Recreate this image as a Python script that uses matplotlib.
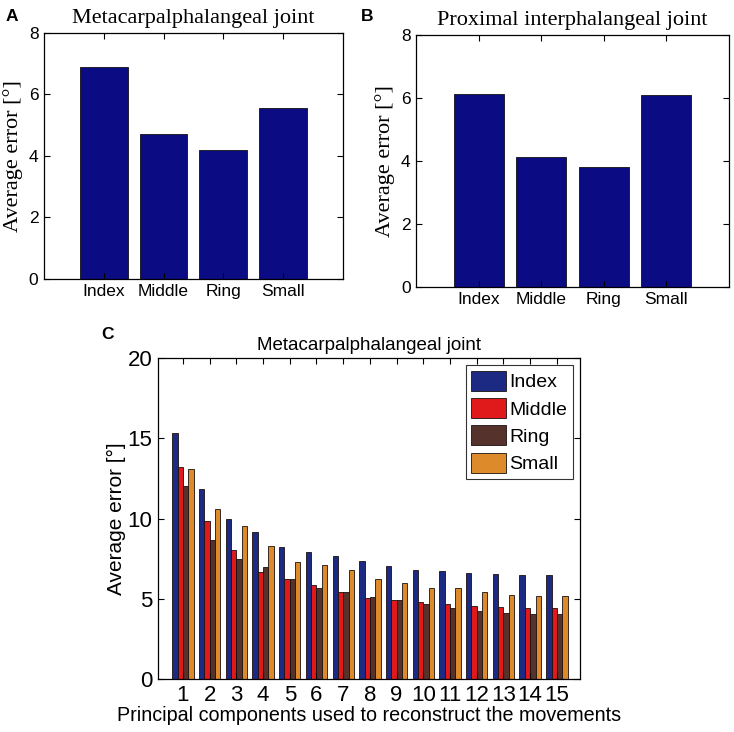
import matplotlib
matplotlib.use("Agg")
import matplotlib.pyplot as plt
import numpy as np

# Panel A / B: average error per finger
fingers = ["Index", "Middle", "Ring", "Small"]
mcp_err = [6.9, 4.7, 4.2, 5.55]
pip_err = [6.13, 4.13, 3.8, 6.1]

# Panel C: average error vs number of principal components
n_pc = list(range(1, 16))
pc_index = [15.3, 11.85, 9.95, 9.15, 8.2, 7.9, 7.65, 7.35, 7.05, 6.8, 6.75, 6.6, 6.55, 6.45, 6.45]
pc_middle = [13.2, 9.85, 8.05, 6.65, 6.2, 5.85, 5.4, 5.05, 4.9, 4.8, 4.7, 4.55, 4.5, 4.45, 4.45]
pc_ring = [12.05, 8.65, 7.45, 6.95, 6.2, 5.65, 5.45, 5.1, 4.9, 4.7, 4.45, 4.25, 4.1, 4.05, 4.05]
pc_small = [13.1, 10.6, 9.55, 8.3, 7.3, 7.1, 6.8, 6.25, 6.0, 5.65, 5.65, 5.45, 5.25, 5.2, 5.2]

SANS = "Liberation Sans"
SERIF = "Liberation Serif"
navy = "#0b0b84"
colors = ["#1c2a84", "#e0191b", "#55322c", "#dd8a2a"]

fig = plt.figure(figsize=(7.34, 7.32), dpi=100)


def style_axes(ax, fs):
    ax.tick_params(direction="in", top=True, right=True, length=4, width=0.8,
                   labelsize=fs, pad=4)
    for lab in ax.get_xticklabels() + ax.get_yticklabels():
        lab.set_fontfamily(SANS)
    for s in ax.spines.values():
        s.set_linewidth(0.9)


def finger_panel(rect, vals, title, letter, letter_xy):
    ax = fig.add_axes(rect)
    x = np.arange(1, 5)
    ax.bar(x, vals, width=0.8, color=navy, edgecolor="#111111", linewidth=0.6)
    ax.set_xlim(0, 5)
    ax.set_ylim(0, 8)
    ax.set_xticks(x)
    ax.set_xticklabels(fingers)
    ax.set_yticks([0, 2, 4, 6, 8])
    style_axes(ax, 12.5)
    ax.set_title(title, family=SERIF, fontsize=16, pad=7)
    ax.set_ylabel("Average error [°]", family=SERIF, fontsize=16, labelpad=4)
    fig.text(letter_xy[0], letter_xy[1], letter, family=SANS, fontweight="bold",
             fontsize=12.5, va="top")
    return ax


finger_panel([0.060, 0.619, 0.407, 0.336], mcp_err,
             "Metacarpalphalangeal joint", "A", (0.008, 0.988))
finger_panel([0.567, 0.608, 0.426, 0.344], pip_err,
             "Proximal interphalangeal joint", "B", (0.492, 0.988))

# Panel C
axc = fig.add_axes([0.215, 0.0724, 0.575, 0.4385])
x = np.array(n_pc)
w = 0.2
series = [pc_index, pc_middle, pc_ring, pc_small]
for i, (vals, lab) in enumerate(zip(series, fingers)):
    axc.bar(x + (i - 1.5) * w, vals, width=w, color=colors[i],
            edgecolor="#1a1010", linewidth=0.6, label=lab)
axc.set_xlim(0.06, 15.86)
axc.set_ylim(0, 20)
axc.set_xticks(x)
axc.set_yticks([0, 5, 10, 15, 20])
style_axes(axc, 16)
axc.set_title("Metacarpalphalangeal joint", family=SANS, fontsize=13.5, pad=6)
axc.set_ylabel("Average error [°]", family=SANS, fontsize=15, labelpad=1)
axc.set_xlabel("Principal components used to reconstruct the movements",
               family=SANS, fontsize=14.2, labelpad=0)
leg = axc.legend(loc="upper right", prop={"family": SANS, "size": 14},
                 fancybox=False, edgecolor="black", handlelength=1.8,
                 handleheight=1.2, handletextpad=0.15, labelspacing=0.35,
                 borderpad=0.3, borderaxespad=0.35)
leg.get_frame().set_linewidth(0.8)
fig.text(0.138, 0.553, "C", family=SANS, fontweight="bold", fontsize=12.5, va="top")

fig.savefig("out.png", dpi=100)
